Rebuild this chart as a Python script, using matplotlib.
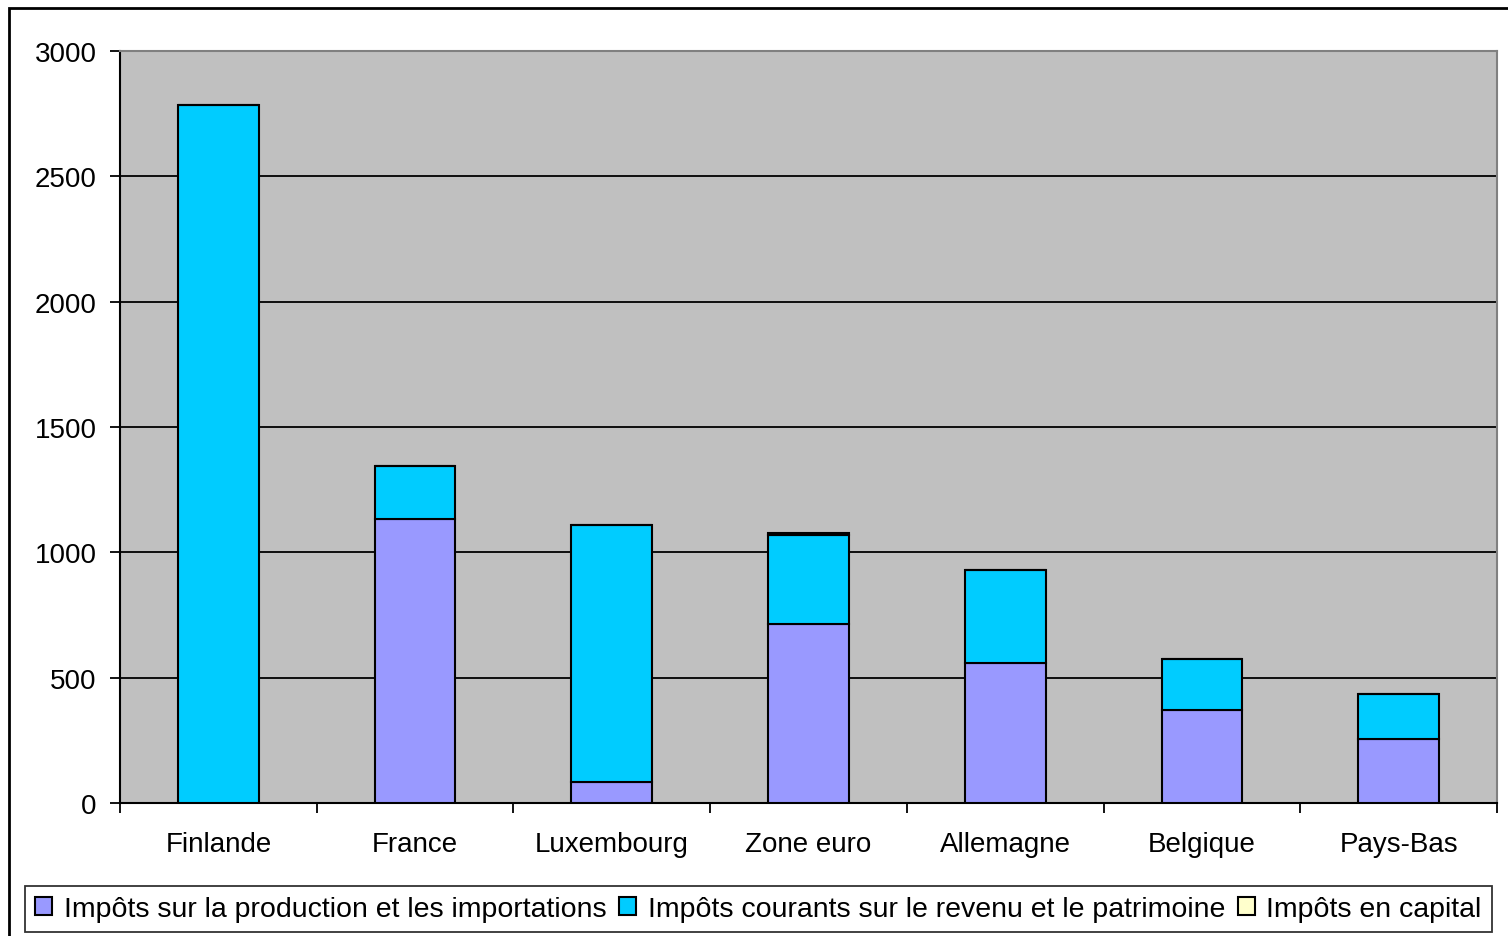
import matplotlib.pyplot as plt
import numpy as np

plt.rcParams['font.family'] = ['Liberation Sans', 'DejaVu Sans']

pays = ["Finlande", "France", "Luxembourg", "Zone euro", "Allemagne", "Belgique", "Pays-Bas"]
production = [0, 1133, 84, 714, 558, 371, 255]
revenu = [2784, 211, 1025, 355, 371, 203, 180]
capital = [0, 0, 0, 8, 0, 0, 0]

series = ["Impôts sur la production et les importations",
          "Impôts courants sur le revenu et le patrimoine",
          "Impôts en capital"]
couleurs = ["#9999FF", "#00CCFF", "#FFFFCC"]

fig = plt.figure(figsize=(15.08, 9.37), dpi=100)
ax = fig.add_axes([0.0796, 0.1419, 0.9131, 0.8026])
ax.set_facecolor("#C0C0C0")

x = np.arange(len(pays))
w = 0.41
bas = np.zeros(len(pays))
barres = []
for vals, c, nom in zip([production, revenu, capital], couleurs, series):
    vals = np.array(vals, dtype=float)
    b = ax.bar(x, vals, w, bottom=bas, color=c, edgecolor="black", linewidth=1.5, label=nom, zorder=3)
    barres.append(b)
    bas += vals

ax.set_ylim(0, 3000)
ax.set_xlim(-0.5, len(pays) - 0.5)
ax.set_yticks(np.arange(0, 3001, 500))
ax.yaxis.grid(True, color="black", linewidth=1.3, zorder=1)
ax.set_axisbelow(True)

ax.set_xticks(x)
ax.set_xticklabels(pays, fontsize=20)
ax.set_xticks(np.arange(-0.5, len(pays), 1), minor=True)
ax.tick_params(axis="x", which="major", length=0, pad=20)
ax.tick_params(axis="x", which="minor", length=7, width=1.3, direction="out")
ax.tick_params(axis="y", labelsize=20, length=7, width=1.3, direction="out", pad=10)

for s in ["left", "bottom"]:
    ax.spines[s].set_color("black")
    ax.spines[s].set_linewidth(1.5)
for s in ["top", "right"]:
    ax.spines[s].set_color("#808080")
    ax.spines[s].set_linewidth(1.5)

leg = fig.legend(handles=barres, loc="center", bbox_to_anchor=(0.503, 0.0285),
                 ncol=3, fontsize=20.5, frameon=True, fancybox=False,
                 handlelength=0.6, handleheight=0.6, handletextpad=0.4, columnspacing=0.45,
                 borderpad=0.35, borderaxespad=0)
leg.get_frame().set_edgecolor("black")
leg.get_frame().set_linewidth(1.3)

# cadre extérieur
fig.patches.append(plt.Rectangle((0.006, -0.01), 1.0, 1.0, transform=fig.transFigure,
                                 fill=False, edgecolor="black", linewidth=2))

fig.savefig("out.png", dpi=100)
